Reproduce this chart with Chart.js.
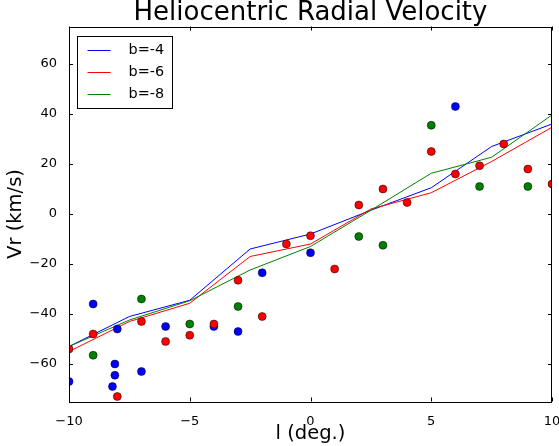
<!DOCTYPE html>
<html>
<head>
<meta charset="utf-8">
<script src="https://cdn.jsdelivr.net/npm/chart.js@4"></script>
<style>
  body { margin: 0; background: #fff; }
  #wrap { width: 559px; height: 446px; }
</style>
</head>
<body>
<div id="wrap"><canvas id="myChart" width="559" height="446"></canvas></div>
<script>
// model curves (sampled every 2.5 deg)
const lineL = [-10, -7.5, -5, -2.5, 0, 2.5, 5, 7.5, 10];
const vrB4 = [-53, -41, -34.5, -14, -8, 1.5, 10.5, 27, 36];
const vrB6 = [-55, -43, -35.7, -17, -12, 2, 8.5, 21, 34.7];
const vrB8 = [-53, -42.4, -34.7, -22.4, -13, 1.5, 16.3, 22.7, 39.6];

// observed stars
const blueL = [-10, -9, -8, -8.1, -8.1, -8.2, -7, -6, -4, -3, -2, 0, 6];
const blueVr = [-67, -36, -46, -60, -64.5, -69, -63, -45, -45, -47, -23.5, -15.5, 43];
const greenL = [-9, -7, -5, -3, 2, 3, 5, 7, 9];
const greenVr = [-56.5, -34, -44, -37, -9, -12.5, 35.5, 11, 11];
const redL = [-10, -9, -8, -7, -6, -5, -4, -3, -2, -1, 0, 1, 2, 3, 4, 5, 6, 7, 8, 9, 10];
const redVr = [-54, -48, -73, -43, -51, -48.5, -44, -26.5, -41, -12, -8.7, -22, 3.6, 10, 4.6, 25, 16, 19.3, 28, 18, 12];

const xTicks = [-10, -5, 0, 5, 10];
const yTicks = [-60, -40, -20, 0, 20, 40, 60];

function pts(xs, ys) {
    var out = [];
    for (var i = 0; i < xs.length; i++) out.push({x: xs[i], y: ys[i]});
    return out;
}

function minus(v) {
    return String(v).replace('-', '\u2212');
}

Chart.defaults.font.family = '"DejaVu Sans", sans-serif';
Chart.defaults.color = '#000';

// box around the axes + inward ticks on all four sides
const framePlugin = {
    id: 'frame',
    afterDatasetsDraw(chart) {
        const ctx = chart.ctx;
        const a = chart.chartArea;
        const xs = chart.scales.x, ys = chart.scales.y;
        ctx.save();
        ctx.strokeStyle = '#000';
        ctx.lineWidth = 1;
        ctx.beginPath();
        xTicks.forEach(function (v) {
            const px = Math.round(xs.getPixelForValue(v)) + 0.5;
            ctx.moveTo(px, a.bottom); ctx.lineTo(px, a.bottom - 4);
            ctx.moveTo(px, a.top); ctx.lineTo(px, a.top + 4);
        });
        yTicks.forEach(function (v) {
            const py = Math.round(ys.getPixelForValue(v)) + 0.5;
            ctx.moveTo(a.left, py); ctx.lineTo(a.left + 4, py);
            ctx.moveTo(a.right, py); ctx.lineTo(a.right - 4, py);
        });
        ctx.stroke();
        ctx.strokeRect(Math.round(a.left) + 0.5, Math.round(a.top) + 0.5,
            Math.round(a.right - a.left) - 1, Math.round(a.bottom - a.top));
        ctx.restore();
    }
};

// legend box in the upper left corner of the axes
const boxLegend = {
    id: 'boxLegend',
    afterDraw(chart) {
        const ctx = chart.ctx;
        const a = chart.chartArea;
        const items = chart.data.datasets.filter(function (d) { return d.showLine; });
        const x0 = Math.round(a.left) + 8.5, y0 = Math.round(a.top) + 9.5;
        ctx.save();
        ctx.fillStyle = '#fff';
        ctx.strokeStyle = '#000';
        ctx.lineWidth = 1;
        ctx.fillRect(x0, y0, 95, 72);
        ctx.strokeRect(x0, y0, 95, 72);
        ctx.font = '14.4px "DejaVu Sans"';
        ctx.textBaseline = 'middle';
        items.forEach(function (d, i) {
            const y = Math.round(y0 + 13 + i * 22.2) + 0.5;
            ctx.strokeStyle = d.borderColor;
            ctx.beginPath();
            ctx.moveTo(x0 + 10, y); ctx.lineTo(x0 + 33, y);
            ctx.stroke();
            ctx.fillStyle = '#000';
            ctx.fillText(d.label, x0 + 51, y);
        });
        ctx.restore();
    }
};

function curve(label, data, color, order) {
    return {
        label: label, data: pts(lineL, data), showLine: true,
        borderColor: color, borderWidth: 1, pointRadius: 0,
        fill: false, tension: 0, order: order, clip: 0
    };
}

function stars(xs, ys, color, order) {
    return {
        label: '', data: pts(xs, ys), showLine: false,
        backgroundColor: color, borderColor: '#000', borderWidth: 0.5,
        pointRadius: 4, order: order, clip: 0
    };
}

new Chart(document.getElementById('myChart'), {
    type: 'scatter',
    data: {
        datasets: [
            curve('b=-4', vrB4, '#0000ff', 5),
            curve('b=-6', vrB6, '#ff0000', 4),
            curve('b=-8', vrB8, '#008000', 3),
            stars(blueL, blueVr, '#0000ff', 2),
            stars(greenL, greenVr, '#008000', 1),
            stars(redL, redVr, '#ff0000', 0)
        ]
    },
    options: {
        responsive: false,
        animation: false,
        events: [],
        layout: { padding: { left: 0, right: 7, top: 0, bottom: 0 } },
        plugins: {
            legend: { display: false },
            tooltip: { enabled: false },
            title: {
                display: true,
                fullSize: false,
                text: 'Heliocentric Radial Velocity',
                color: '#000',
                font: { size: 26, weight: 'normal', lineHeight: 1 },
                padding: { top: 0, bottom: 0.5 }
            }
        },
        scales: {
            x: {
                type: 'linear', min: -10, max: 10,
                afterBuildTicks: function (s) { s.ticks = xTicks.map(function (v) { return {value: v}; }); },
                afterFit: function (s) { s.height = 44.5; s.paddingLeft = 0; s.paddingRight = 0; },
                grid: { display: false },
                border: { display: false },
                ticks: {
                    font: { size: 13 }, color: '#000', padding: 4,
                    maxRotation: 0, autoSkip: false,
                    callback: function (v) { return minus(v); }
                },
                title: {
                    display: true, text: 'l (deg.)', color: '#000',
                    font: { size: 19.5 }, padding: { top: 0, bottom: 0 }
                }
            },
            y: {
                type: 'linear', min: -75, max: 75,
                afterBuildTicks: function (s) { s.ticks = yTicks.map(function (v) { return {value: v}; }); },
                afterFit: function (s) { s.width = 69; s.paddingTop = 0; s.paddingBottom = 0; },
                grid: { display: false },
                border: { display: false },
                ticks: {
                    font: { size: 13 }, color: '#000', padding: 4,
                    autoSkip: false,
                    callback: function (v) { return minus(v); }
                },
                title: {
                    display: true, text: 'Vr (km/s)', color: '#000',
                    font: { size: 19.5 }, padding: { top: 4, bottom: 0 }
                }
            }
        }
    },
    plugins: [framePlugin, boxLegend]
});
</script>
</body>
</html>
